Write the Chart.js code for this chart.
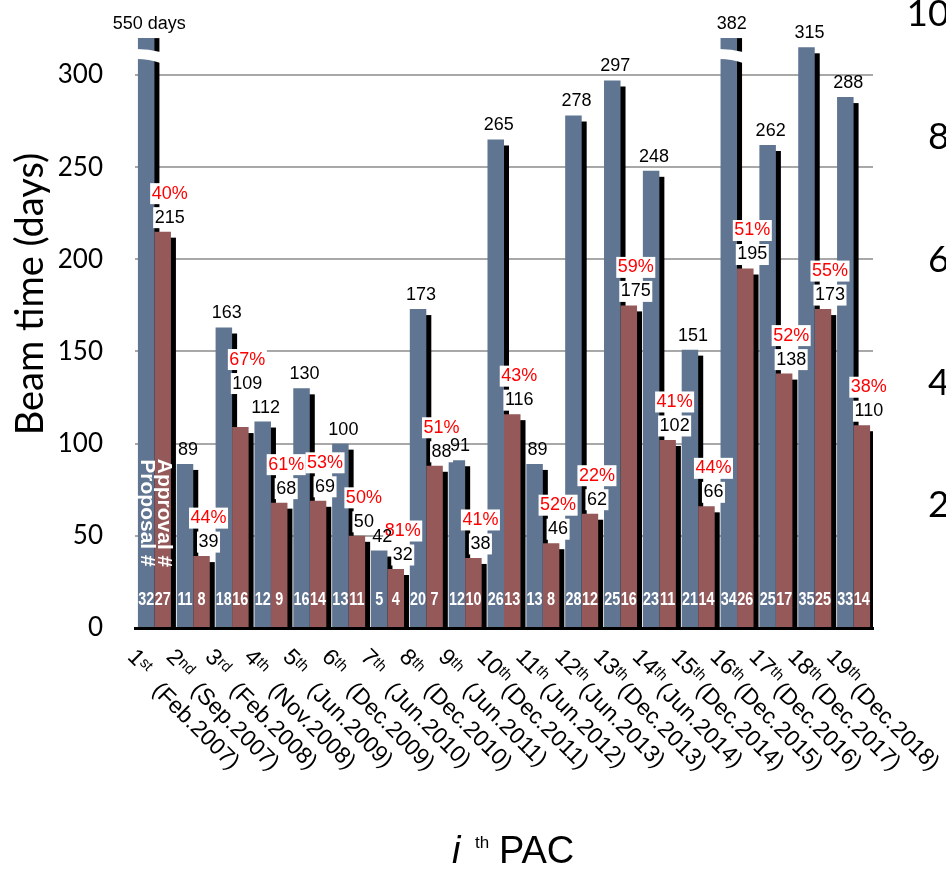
<!DOCTYPE html>
<html>
<head>
<meta charset="utf-8">
<title>Beam time per PAC</title>
<script src="https://cdn.jsdelivr.net/npm/chart.js@4"></script>
<style>
  html, body { margin: 0; padding: 0; background: #fff; overflow: hidden; }
  #wrap { position: absolute; left: 0; top: -20px; width: 971px; height: 892px; }
</style>
</head>
<body>
<div id="wrap"><canvas id="pac" width="971" height="892"></canvas></div>
<script>
// --- data ---
const ORDINALS = ['1', '2', '3', '4', '5', '6', '7', '8', '9', '10', '11', '12', '13', '14', '15', '16', '17', '18', '19'];
const SUFFIXES = ['st', 'nd', 'rd', 'th', 'th', 'th', 'th', 'th', 'th', 'th', 'th', 'th', 'th', 'th', 'th', 'th', 'th', 'th', 'th'];
const MEETINGS = ['(Feb.2007)', '(Sep.2007)', '(Feb.2008)', '(Nov.2008)', '(Jun.2009)', '(Dec.2009)', '(Jun.2010)',
    '(Dec.2010)', '(Jun.2011)', '(Dec.2011)', '(Jun.2012)', '(Jun.2013)', '(Dec.2013)', '(Jun.2014)',
    '(Dec.2014)', '(Dec.2015)', '(Dec.2016)', '(Dec.2017)', '(Dec.2018)'];
const PROPOSED_DAYS = [550, 89, 163, 112, 130, 100, 42, 173, 91, 265, 89, 278, 297, 248, 151, 382, 262, 315, 288];
const APPROVED_DAYS = [215, 39, 109, 68, 69, 50, 32, 88, 38, 116, 46, 62, 175, 102, 66, 195, 138, 173, 110];
const APPROVAL_RATES = ['40%', '44%', '67%', '61%', '53%', '50%', '81%', '51%', '41%', '43%', '52%', '22%', '59%', '41%', '44%', '51%', '52%', '55%', '38%'];
const PROPOSAL_COUNTS = [32, 11, 18, 12, 16, 13, 5, 20, 12, 26, 13, 28, 25, 23, 21, 34, 25, 35, 33];
const APPROVAL_COUNTS = [27, 8, 16, 9, 14, 11, 4, 7, 10, 13, 8, 12, 16, 11, 14, 26, 17, 25, 14];
const LEFT_STEP = 50, LEFT_TOP_TICK = 300, LEFT_MAX = 332.8;
const RIGHT_STEP = 20, RIGHT_MAX = 100;
const BREAK_AT = 320; // taller bars are drawn cut at this height

const BLUE = '#5f7591';
const RED = '#955959';
const LABEL_ANGLE = Math.PI / 4;

const CATEGORIES = ORDINALS.map((n, i) => n + SUFFIXES[i] + ' ' + MEETINGS[i]);

const isCut = (d, i) => d === 0 && PROPOSED_DAYS[i] > BREAK_AT;
const proposalText = i => (i === 0 ? PROPOSED_DAYS[i] + ' days' : String(PROPOSED_DAYS[i]));

// hard black drop shadow behind every bar
function drawShadows(chart) {
    const ctx = chart.ctx, a = chart.chartArea;
    ctx.save();
    ctx.beginPath();
    ctx.rect(a.left, a.top, a.right - a.left, a.bottom - a.top);
    ctx.clip();
    ctx.fillStyle = '#000';
    [0, 1].forEach(d => {
        chart.getDatasetMeta(d).data.forEach((b, i) => {
            const top = isCut(d, i) ? b.y : b.y + 6;
            ctx.fillRect(b.x - b.width / 2 + 5, top, b.width, b.base - top);
        });
    });
    ctx.restore();
}

function drawBreaks(chart) {
    const ctx = chart.ctx;
    const meta = chart.getDatasetMeta(0);
    ctx.save();
    ctx.fillStyle = '#fff';
    PROPOSED_DAYS.forEach((v, i) => {
        if (!isCut(0, i)) return;
        const b = meta.data[i];
        const l = b.x - b.width / 2 - 1, r = b.x + b.width / 2 + 6, m = (l + r) / 2, t = b.y;
        ctx.beginPath();
        ctx.moveTo(l, t + 11);
        ctx.quadraticCurveTo(m, t + 11, r, t + 14);
        ctx.lineTo(r, t + 25);
        ctx.quadraticCurveTo(m, t + 21, l, t + 21);
        ctx.closePath();
        ctx.fill();
    });
    ctx.restore();
}

function drawCounts(chart) {
    const ctx = chart.ctx;
    const base = chart.scales.y.getPixelForValue(0);
    ctx.save();
    ctx.fillStyle = '#fff';
    ctx.textAlign = 'center';
    ctx.textBaseline = 'middle';
    ctx.font = 'bold 18px "Liberation Sans"';
    [PROPOSAL_COUNTS, APPROVAL_COUNTS].forEach((counts, d) => {
        const meta = chart.getDatasetMeta(d);
        counts.forEach((n, i) => {
            ctx.save();
            ctx.translate(meta.data[i].x, base - 28);
            ctx.scale(0.8, 1);
            ctx.fillText(String(n), 0, 0);
            ctx.restore();
        });
    });
    // captions written down the first pair of bars
    ctx.font = 'bold 21px "Liberation Sans"';
    ['Proposal #', 'Approval #'].forEach((txt, d) => {
        const b = chart.getDatasetMeta(d).data[0];
        ctx.save();
        ctx.translate(b.x + 1, base - 115);
        ctx.rotate(Math.PI / 2);
        ctx.fillText(txt, 0, 0);
        ctx.restore();
    });
    ctx.restore();
}

function boxedText(ctx, txt, x, y, color) {
    const w = ctx.measureText(txt).width + 3;
    ctx.fillStyle = '#fff';
    ctx.fillRect(x - w / 2, y - 10.5, w, 21);
    ctx.fillStyle = color;
    ctx.fillText(txt, x, y);
}

function drawValueLabels(chart) {
    const ctx = chart.ctx;
    const blue = chart.getDatasetMeta(0), red = chart.getDatasetMeta(1);
    ctx.save();
    ctx.textAlign = 'center';
    ctx.textBaseline = 'middle';
    ctx.font = '18px "Liberation Sans"';
    const blueAt = i => ({ x: blue.data[i].x + 3, y: blue.data[i].y - 14, w: ctx.measureText(proposalText(i)).width });
    APPROVED_DAYS.forEach((v, i) => {
        const b = red.data[i];
        const x = b.x + 7;
        let vy = b.y - 14;
        // lift the pair when it would run into the next group's proposal label
        if (i + 1 < PROPOSED_DAYS.length) {
            const n = blueAt(i + 1);
            const w = ctx.measureText(String(v)).width;
            const overlapX = (w + n.w) / 2 - Math.abs(n.x - x);
            const overlapY = 14 - Math.abs(n.y - vy);
            if (overlapX > 3 && overlapY > 2) vy = n.y - 24;
        }
        boxedText(ctx, APPROVAL_RATES[i], x, vy - 24, '#ff0000');
        boxedText(ctx, String(v), x, vy, '#000');
    });
    ctx.fillStyle = '#000';
    PROPOSED_DAYS.forEach((v, i) => {
        const p = blueAt(i);
        ctx.fillText(proposalText(i), p.x, p.y);
    });
    ctx.restore();
}

function drawCategoryLabels(chart) {
    const ctx = chart.ctx;
    const x = chart.scales.x;
    const y0 = chart.chartArea.bottom + 30;
    ctx.save();
    ctx.fillStyle = '#000';
    ctx.textAlign = 'left';
    ctx.textBaseline = 'alphabetic';
    ORDINALS.forEach((num, i) => {
        ctx.save();
        ctx.translate(x.getPixelForValue(i) - 28, y0);
        ctx.rotate(LABEL_ANGLE);
        ctx.font = '23px "Liberation Sans"';
        ctx.fillText(num, 0, 0);
        const w = ctx.measureText(num).width;
        ctx.font = '15px "Liberation Sans"';
        ctx.fillText(SUFFIXES[i], w, -5);
        ctx.font = '23px "Liberation Sans"';
        ctx.fillText(MEETINGS[i], 41, 6);
        ctx.restore();
    });
    ctx.restore();
}

function drawTitles(chart) {
    const ctx = chart.ctx;
    const area = chart.chartArea;
    ctx.save();
    ctx.fillStyle = '#000';
    ctx.translate(43, 314);
    ctx.rotate(-Math.PI / 2);
    ctx.textAlign = 'center';
    ctx.textBaseline = 'alphabetic';
    ctx.font = '38px Lato';
    ctx.fillText('Beam time (days)', 0, 0);
    ctx.restore();

    // x title: "i th PAC"
    ctx.save();
    ctx.fillStyle = '#000';
    ctx.textAlign = 'left';
    ctx.textBaseline = 'alphabetic';
    const cx = (area.left + area.right) / 2, by = 883;
    ctx.font = 'italic 38px "Liberation Sans"';
    ctx.fillText('i', cx - 52, by);
    ctx.font = '17px "Liberation Sans"';
    ctx.fillText('th', cx - 29, by - 15);
    ctx.font = '38px "Liberation Sans"';
    ctx.fillText('PAC', cx - 5, by);
    ctx.restore();
}

const decor = {
    id: 'decor',
    beforeDatasetsDraw(chart) {
        drawShadows(chart);
    },
    afterDatasetsDraw(chart) {
        drawBreaks(chart);
        drawCounts(chart);
    },
    afterDraw(chart) {
        drawValueLabels(chart);
        drawCategoryLabels(chart);
        drawTitles(chart);
    }
};

function noPad(s) { s.paddingTop = 0; s.paddingBottom = 0; }

function build() {
    Chart.defaults.font.family = '"Liberation Sans", Arial, sans-serif';
    new Chart(document.getElementById('pac'), {
        type: 'bar',
        data: {
            labels: CATEGORIES,
            datasets: [
                { label: 'Proposal', data: PROPOSED_DAYS.map(v => Math.min(v, BREAK_AT)), backgroundColor: BLUE },
                { label: 'Approval', data: APPROVED_DAYS, backgroundColor: RED }
            ]
        },
        options: {
            responsive: false,
            animation: false,
            layout: { padding: { top: 34.5, left: 0, right: 0, bottom: 0 } },
            datasets: { bar: { categoryPercentage: 0.85, barPercentage: 1, clip: 0 } },
            plugins: { legend: { display: false }, tooltip: { enabled: false } },
            scales: {
                x: {
                    grid: { display: false },
                    border: { display: true, color: '#000', width: 3, z: 1 },
                    ticks: { display: false },
                    afterFit: s => { s.height = 244; s.paddingLeft = 0; s.paddingRight = 0; }
                },
                y: {
                    min: 0,
                    max: LEFT_MAX,
                    ticks: {
                        stepSize: LEFT_STEP,
                        includeBounds: false,
                        padding: 32,
                        color: '#000',
                        font: { family: 'Lato', size: 26 },
                        callback: v => (v <= LEFT_TOP_TICK ? v : '')
                    },
                    grid: { color: '#a8a8a8', lineWidth: 2, drawTicks: false },
                    border: { display: false },
                    afterFit: s => { s.width = 135; noPad(s); }
                },
                y2: {
                    position: 'right',
                    min: 0,
                    max: RIGHT_MAX,
                    ticks: {
                        stepSize: RIGHT_STEP,
                        crossAlign: 'far',
                        color: '#000',
                        font: { family: 'Lato', size: 37 },
                        callback: v => (v === 0 ? '' : v)
                    },
                    grid: { display: false },
                    border: { display: false },
                    afterFit: s => { s.width = 98; noPad(s); }
                }
            }
        },
        plugins: [decor]
    });
}

const FONTS = ['26px Lato', '37px Lato', '23px "Liberation Sans"', 'bold 18px "Liberation Sans"', 'italic 38px "Liberation Sans"'];
Promise.all(FONTS.map(f => document.fonts.load(f))).catch(() => {}).then(build);
</script>
</body>
</html>
